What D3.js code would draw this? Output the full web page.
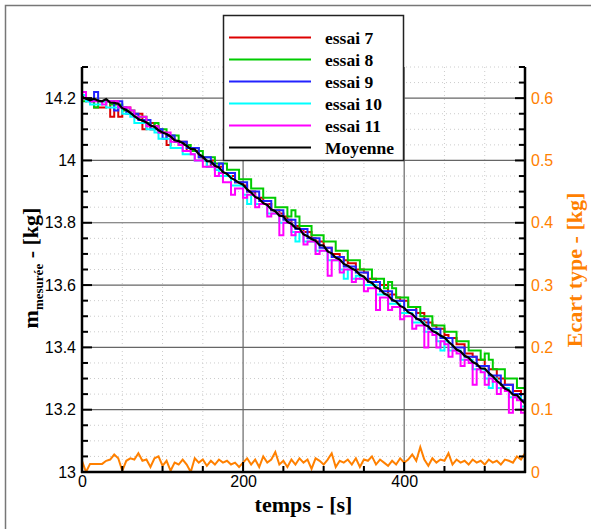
<!DOCTYPE html>
<html><head><meta charset="utf-8">
<script src="https://cdn.jsdelivr.net/npm/d3@7"></script>
<style>body{margin:0;background:#fff}svg{display:block}</style>
</head><body><svg id="c" width="591" height="529"></svg>
<script>
// time axis (s), sampled every 5 s
const time = d3.range(0, 551, 5);
const seriesNames = ["essai 7","essai 8","essai 9","essai 10","essai 11","Moyenne"];
const seriesColors = ["#dd0000","#00cc00","#2222ff","#00ffff","#ff00ff","#000000"];
const essai7 = [14.20,14.20,14.19,14.17,14.17,14.17,14.19,14.14,14.19,14.14,14.17,14.17,14.15,14.15,14.15,14.10,14.12,14.12,14.11,14.09,14.09,14.05,14.07,14.06,14.06,14.06,14.03,14.03,14.03,14.01,14.00,13.98,14.00,13.98,13.98,13.96,13.95,13.95,13.93,13.93,13.92,13.90,13.90,13.88,13.88,13.86,13.86,13.84,13.84,13.83,13.82,13.81,13.79,13.79,13.78,13.77,13.77,13.75,13.74,13.74,13.72,13.72,13.70,13.70,13.69,13.68,13.67,13.67,13.65,13.65,13.64,13.62,13.62,13.61,13.60,13.60,13.57,13.57,13.56,13.55,13.55,13.53,13.53,13.51,13.51,13.48,13.48,13.47,13.46,13.46,13.44,13.43,13.43,13.41,13.41,13.38,13.38,13.37,13.36,13.36,13.34,13.33,13.33,13.30,13.30,13.28,13.28,13.26,13.26,13.25,13.24];
const essai8 = [14.19,14.20,14.19,14.17,14.19,14.19,14.19,14.18,14.18,14.18,14.16,14.16,14.16,14.14,14.14,14.14,14.12,14.10,14.12,14.10,14.10,14.08,14.08,14.08,14.05,14.05,14.05,14.03,14.04,14.03,14.01,14.01,14.01,13.99,13.99,13.99,13.97,13.97,13.97,13.94,13.94,13.94,13.91,13.91,13.91,13.88,13.88,13.88,13.85,13.85,13.85,13.82,13.84,13.82,13.79,13.79,13.79,13.76,13.76,13.76,13.74,13.74,13.74,13.71,13.71,13.71,13.68,13.68,13.68,13.65,13.65,13.65,13.62,13.62,13.62,13.59,13.61,13.59,13.56,13.56,13.56,13.53,13.53,13.53,13.50,13.50,13.50,13.47,13.47,13.47,13.45,13.45,13.45,13.42,13.42,13.42,13.39,13.39,13.39,13.36,13.38,13.36,13.33,13.33,13.33,13.30,13.30,13.30,13.27,13.27,13.25];
const essai9 = [14.20,14.19,14.19,14.22,14.19,14.19,14.19,14.19,14.16,14.19,14.17,14.15,14.15,14.15,14.13,14.13,14.13,14.10,14.10,14.10,14.07,14.08,14.08,14.06,14.06,14.06,14.04,14.04,14.04,14.01,14.01,14.01,13.99,13.97,13.99,13.96,13.96,13.96,13.93,13.93,13.93,13.90,13.90,13.90,13.87,13.87,13.87,13.84,13.84,13.84,13.81,13.81,13.81,13.78,13.78,13.78,13.75,13.75,13.75,13.72,13.72,13.72,13.69,13.69,13.69,13.66,13.66,13.66,13.64,13.64,13.64,13.61,13.61,13.61,13.58,13.58,13.58,13.55,13.55,13.55,13.52,13.52,13.52,13.49,13.49,13.49,13.46,13.46,13.46,13.43,13.43,13.43,13.40,13.40,13.40,13.37,13.37,13.37,13.34,13.34,13.34,13.31,13.31,13.31,13.28,13.28,13.28,13.25,13.25,13.23,13.22];
const essai10 = [14.21,14.19,14.18,14.18,14.18,14.19,14.17,14.17,14.17,14.17,14.15,14.15,14.14,14.12,14.12,14.12,14.10,14.10,14.09,14.07,14.07,14.07,14.04,14.04,14.04,14.02,14.02,14.02,14.00,14.00,14.00,13.98,13.98,13.97,13.95,13.95,13.95,13.92,13.92,13.92,13.89,13.86,13.89,13.86,13.86,13.86,13.83,13.83,13.83,13.80,13.80,13.80,13.77,13.74,13.77,13.74,13.74,13.74,13.71,13.71,13.71,13.68,13.68,13.68,13.65,13.62,13.65,13.62,13.63,13.62,13.60,13.60,13.60,13.57,13.57,13.57,13.54,13.54,13.54,13.51,13.51,13.51,13.48,13.48,13.48,13.45,13.45,13.45,13.42,13.39,13.42,13.39,13.39,13.39,13.36,13.36,13.36,13.33,13.33,13.33,13.30,13.27,13.30,13.27,13.27,13.27,13.24,13.24,13.24,13.21,13.20];
const essai11 = [14.22,14.20,14.19,14.19,14.19,14.18,14.19,14.19,14.19,14.17,14.17,14.17,14.16,14.14,14.14,14.14,14.11,14.11,14.11,14.09,14.09,14.09,14.06,14.06,14.05,14.03,14.03,14.02,14.00,14.00,13.98,13.98,13.98,13.95,13.96,13.93,13.93,13.89,13.91,13.91,13.88,13.89,13.89,13.85,13.86,13.86,13.82,13.83,13.83,13.76,13.80,13.80,13.76,13.77,13.77,13.73,13.74,13.74,13.70,13.71,13.71,13.63,13.68,13.68,13.64,13.65,13.65,13.61,13.62,13.62,13.58,13.59,13.59,13.52,13.56,13.56,13.52,13.53,13.53,13.49,13.50,13.50,13.46,13.47,13.47,13.40,13.45,13.44,13.40,13.42,13.41,13.37,13.39,13.38,13.34,13.36,13.35,13.28,13.33,13.32,13.28,13.30,13.29,13.25,13.27,13.26,13.19,13.24,13.23,13.19,13.21];
const moyenne = [14.205,14.198,14.193,14.198,14.192,14.19,14.197,14.186,14.185,14.182,14.168,14.162,14.153,14.142,14.133,14.128,14.122,14.112,14.108,14.097,14.09,14.085,14.077,14.065,14.062,14.056,14.047,14.037,14.036,14.02,14.012,13.998,13.997,13.983,13.978,13.963,13.957,13.944,13.937,13.928,13.922,13.907,13.897,13.883,13.877,13.863,13.857,13.843,13.837,13.823,13.821,13.803,13.797,13.783,13.781,13.763,13.757,13.748,13.742,13.728,13.727,13.708,13.702,13.688,13.682,13.668,13.662,13.653,13.647,13.633,13.627,13.613,13.607,13.593,13.587,13.573,13.567,13.553,13.547,13.533,13.527,13.513,13.507,13.493,13.487,13.473,13.467,13.453,13.447,13.438,13.432,13.418,13.407,13.393,13.387,13.373,13.367,13.353,13.347,13.333,13.332,13.318,13.307,13.293,13.282,13.268,13.262,13.248,13.247,13.232,13.22];
const ecartType = [0.018,0.0,0.013,0.013,0.013,0.013,0.018,0.02,0.028,0.022,0.002,0.018,0.022,0.02,0.03,0.018,0.02,0.008,0.022,0.025,0.01,0.018,0.002,0.015,0.012,0.02,0.012,0.0,0.022,0.015,0.02,0.01,0.018,0.012,0.02,0.015,0.018,0.012,0.015,0.008,0.015,0.022,0.012,0.02,0.008,0.025,0.015,0.02,0.032,0.012,0.018,0.008,0.02,0.012,0.022,0.015,0.02,0.005,0.022,0.018,0.012,0.02,0.03,0.008,0.018,0.015,0.02,0.012,0.022,0.008,0.02,0.018,0.025,0.012,0.02,0.015,0.01,0.018,0.012,0.022,0.015,0.02,0.028,0.018,0.04,0.02,0.01,0.022,0.015,0.02,0.018,0.03,0.012,0.02,0.015,0.018,0.012,0.02,0.015,0.018,0.012,0.02,0.015,0.018,0.012,0.02,0.018,0.015,0.025,0.02,0.03];
const xMajorTicks = [0,200,400];
const yLeftTicks = [13,13.2,13.4,13.6,13.8,14,14.2];
const yRightTicks = [0,0.1,0.2,0.3,0.4,0.5,0.6];

const svg = d3.select("#c");
const L = 82, R = 525, T = 67, B = 472;
const x = d3.scaleLinear().domain([0,550]).range([L,R]);
const y = d3.scaleLinear().domain([13,14.3]).range([B,T]);
const y2 = d3.scaleLinear().domain([0,0.65]).range([B,T]);
const orange = "#ff8000";

// outer frame (top & left visible)
svg.append("rect").attr("x",5.5).attr("y",5.5).attr("width",600).attr("height",600)
  .attr("fill","none").attr("stroke","#777").attr("stroke-width",1.5);

const g = svg.append("g");
// minor dotted grid
const xMinor = d3.range(50,550,50).filter(v=>!xMajorTicks.includes(v));
const yMinor = d3.range(13.05,14.31,0.05).map(v=>+v.toFixed(2)).filter(v=>Math.abs(v*5-Math.round(v*5))>1e-6);
g.selectAll(".xm").data(xMinor).join("line").attr("x1",d=>x(d)).attr("x2",d=>x(d)).attr("y1",T).attr("y2",B)
  .attr("stroke","#ccc").attr("stroke-width",1).attr("stroke-dasharray","1,3");
g.selectAll(".ym").data(yMinor).join("line").attr("y1",d=>y(d)).attr("y2",d=>y(d)).attr("x1",L).attr("x2",R)
  .attr("stroke","#ccc").attr("stroke-width",1).attr("stroke-dasharray","1,3");
// major grid
g.selectAll(".xg").data(xMajorTicks.filter(d=>d>0)).join("line").attr("x1",d=>x(d)).attr("x2",d=>x(d)).attr("y1",T).attr("y2",B)
  .attr("stroke","#666").attr("stroke-width",1.2);
g.selectAll(".yg").data(yLeftTicks.filter(d=>d>13)).join("line").attr("y1",d=>y(d)).attr("y2",d=>y(d)).attr("x1",L).attr("x2",R)
  .attr("stroke","#666").attr("stroke-width",1.2);

// data
svg.append("clipPath").attr("id","clip").append("rect").attr("x",L).attr("y",T-5).attr("width",R-L).attr("height",B-T+5);
const dg = svg.append("g").attr("clip-path","url(#clip)");
const trials = [essai7,essai8,essai9,essai10,essai11];
const stepLine = d3.line().x((d,i)=>x(time[i])).y(d=>y(d)).curve(d3.curveStepAfter);
trials.forEach((s,k)=>{
  dg.append("path").datum(s).attr("d",stepLine).attr("fill","none").attr("stroke",seriesColors[k]).attr("stroke-width",2);
});
const lin = d3.line().x((d,i)=>x(time[i])).y(d=>y(d));
dg.append("path").datum(moyenne).attr("d",lin).attr("fill","none").attr("stroke","#000").attr("stroke-width",2.2);
const lin2 = d3.line().x((d,i)=>x(time[i])).y(d=>y2(d));
dg.append("path").datum(ecartType).attr("d",lin2).attr("fill","none").attr("stroke",orange).attr("stroke-width",2);

// axes
const sansFont = "'Liberation Sans', Arial, sans-serif";
const serifFont = "'Liberation Serif', 'Times New Roman', serif";
function styleAxis(sel, col){
  sel.select(".domain").remove();
  sel.selectAll(".tick line").attr("stroke","#000").attr("stroke-width",2);
  sel.selectAll(".tick text").attr("font-family",sansFont).attr("font-size",16).attr("fill",col);
}
// ticks (major & minor, inward)
const axL = svg.append("g");
axL.selectAll("line").data(d3.range(13,14.31,0.05).map(v=>+v.toFixed(2))).join("line")
  .attr("x1",L).attr("x2",d=>L+(Math.abs(d*5-Math.round(d*5))<1e-6?10:6)).attr("y1",d=>y(d)).attr("y2",d=>y(d))
  .attr("stroke","#000").attr("stroke-width",2);
const axR = svg.append("g");
axR.selectAll("line").data(d3.range(0,0.651,0.025).map(v=>+v.toFixed(3))).join("line")
  .attr("x1",R).attr("x2",d=>R-(Math.abs(d*10-Math.round(d*10))<1e-6?10:6)).attr("y1",d=>y2(d)).attr("y2",d=>y2(d))
  .attr("stroke","#000").attr("stroke-width",2);
const axB = svg.append("g");
axB.selectAll("line").data(d3.range(0,551,50)).join("line")
  .attr("y1",B).attr("y2",d=>B-(d%200===0?10:6)).attr("x1",d=>x(d)).attr("x2",d=>x(d))
  .attr("stroke","#000").attr("stroke-width",2);

const leftAxis = svg.append("g").attr("transform",`translate(${L},0)`)
  .call(d3.axisLeft(y).tickValues(yLeftTicks).tickSize(0).tickPadding(6).tickFormat(d=>d3.format("")(d)));
styleAxis(leftAxis,"#000");
const rightAxis = svg.append("g").attr("transform",`translate(${R},0)`)
  .call(d3.axisRight(y2).tickValues(yRightTicks).tickSize(0).tickPadding(6).tickFormat(d=>d3.format("")(d)));
styleAxis(rightAxis,orange);
const bottomAxis = svg.append("g").attr("transform",`translate(0,${B})`)
  .call(d3.axisBottom(x).tickValues(xMajorTicks).tickSize(0).tickPadding(4));
styleAxis(bottomAxis,"#000");

// axis lines
svg.append("line").attr("x1",L).attr("x2",L).attr("y1",T).attr("y2",B+1).attr("stroke","#000").attr("stroke-width",2.5);
svg.append("line").attr("x1",R).attr("x2",R).attr("y1",T).attr("y2",B+1).attr("stroke","#000").attr("stroke-width",2.5);
svg.append("line").attr("x1",L-1).attr("x2",R+1).attr("y1",B).attr("y2",B).attr("stroke","#000").attr("stroke-width",2.5);

// axis titles
svg.append("text").attr("x",(L+R)/2).attr("y",512).attr("text-anchor","middle")
  .attr("font-family",serifFont).attr("font-weight","bold").attr("font-size",22).text("temps - [s]");
const yl = svg.append("text").attr("transform","translate(38,268) rotate(-90)").attr("text-anchor","middle")
  .attr("font-family",serifFont).attr("font-weight","bold").attr("font-size",22).attr("fill","#000");
yl.append("tspan").text("m");
yl.append("tspan").attr("font-size",13).attr("dy",5).text("mesurée");
yl.append("tspan").attr("dy",-5).text(" - [kg]");
svg.append("text").attr("transform","translate(582,270) rotate(-90)").attr("text-anchor","middle")
  .attr("font-family",serifFont).attr("font-weight","bold").attr("font-size",22).attr("fill",orange).text("Ecart type - [kg]");

// legend
const lg = svg.append("g");
lg.append("rect").attr("x",223.5).attr("y",15.5).attr("width",180).attr("height",145)
  .attr("fill","#fff").attr("stroke","#222").attr("stroke-width",1.5);
seriesNames.forEach((n,i)=>{
  const yy = 37.5 + i*22;
  lg.append("line").attr("x1",229).attr("x2",311).attr("y1",yy).attr("y2",yy)
    .attr("stroke",seriesColors[i]).attr("stroke-width",2);
  lg.append("text").attr("x",325).attr("y",yy+6).attr("font-family",serifFont).attr("font-weight","bold")
    .attr("font-size",17.5).attr("fill","#000").text(n);
});
</script></body></html>
